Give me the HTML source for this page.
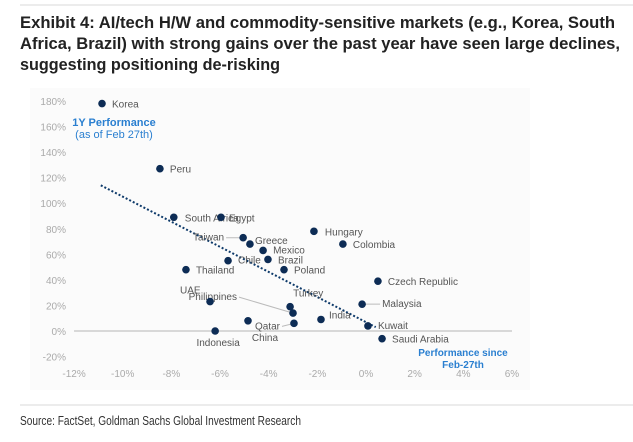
<!DOCTYPE html>
<html><head><meta charset="utf-8"><style>
body{margin:0;background:#fff;}
svg{display:block;font-family:"Liberation Sans",Arial,sans-serif;}
</style></head><body>
<svg width="633" height="442" viewBox="0 0 633 442">
<line x1="20" y1="5" x2="633" y2="5" stroke="#d8d8d8" stroke-width="1"/>
<g font-family="'Liberation Sans Narrow','Liberation Sans',sans-serif" font-weight="bold" font-size="17" fill="#222">
<text x="20" y="28" textLength="595" lengthAdjust="spacingAndGlyphs">Exhibit 4: AI/tech H/W and commodity-sensitive markets (e.g., Korea, South</text>
<text x="20" y="49" textLength="600" lengthAdjust="spacingAndGlyphs">Africa, Brazil) with strong gains over the past year have seen large declines,</text>
<text x="20" y="70" textLength="260" lengthAdjust="spacingAndGlyphs">suggesting positioning de-risking</text>
</g>
<rect x="30" y="88" width="500" height="302" fill="#fbfbfb"/>
<g id="axes" font-size="10" fill="#aaa"></g>
<g id="marks"></g>
<text x="114" y="126" font-size="11" font-weight="bold" fill="#2a7fd0" text-anchor="middle">1Y Performance</text>
<text x="114" y="138" font-size="11" fill="#2a7fd0" text-anchor="middle">(as of Feb 27th)</text>
<text x="463" y="356" font-size="10" font-weight="bold" fill="#2a7fd0" text-anchor="middle">Performance since</text>
<text x="463" y="368" font-size="10" font-weight="bold" fill="#2a7fd0" text-anchor="middle">Feb-27th</text>
<line x1="20" y1="405" x2="633" y2="405" stroke="#d8d8d8" stroke-width="1"/>
<text x="20" y="425" font-family="'Liberation Sans Narrow','Liberation Sans',sans-serif" font-size="13" fill="#333" textLength="281" lengthAdjust="spacingAndGlyphs">Source: FactSet, Goldman Sachs Global Investment Research</text>
</svg>
<script>
const countries=["Korea","Peru","South Africa","Egypt","Taiwan","Greece","Mexico","Brazil","Chile","Thailand","Poland","Hungary","Colombia","Czech Republic","Malaysia","Kuwait","Saudi Arabia","India","Turkey","Philippines","Qatar","China","UAE","Indonesia"];
const xVals=[-10.85,-8.47,-7.9,-5.96,-5.05,-4.77,-4.23,-4.03,-5.67,-7.4,-3.37,-2.14,-0.95,0.49,-0.16,0.08,0.66,-1.85,-3.12,-3.0,-2.96,-4.85,-6.41,-6.2];
const yVals=[178,127,89,89,73,68,63,56,55,48,48,78,68,39,21,4,-6,9,19,14,6,8,23,0];
const xTicks=[-12,-10,-8,-6,-4,-2,0,2,4,6];
const yTicks=[180,160,140,120,100,80,60,40,20,0,-20];
const trendX=[-10.9,0.4];
const trendY=[114,3];
// label offsets [dx,dy,anchor,leader]
const lab={"Korea":[10,4,"start"],"Peru":[10,4,"start"],"South Africa":[11,4,"start"],"Egypt":[8,4,"start"],"Taiwan":[-19,3,"end",1],"Greece":[5,0,"start"],"Mexico":[10,3,"start"],"Brazil":[10,4,"start"],"Chile":[10,3,"start"],"Thailand":[10,4,"start"],"Poland":[10,4,"start"],"Hungary":[11,4,"start"],"Colombia":[10,4,"start"],"Czech Republic":[10,4,"start"],"Malaysia":[20,3,"start",1],"Kuwait":[10,3,"start"],"Saudi Arabia":[10,4,"start"],"India":[8,-1,"start"],"Turkey":[3,-10,"start"],"Philippines":[-56,-13,"end",1],"Qatar":[-14,6,"end",1],"China":[17,20,"middle"],"UAE":[-30,-8,"start"],"Indonesia":[3,15,"middle"]};
const X=v=>366+v*24.33, Y=v=>331-v*1.278;
const NS="http://www.w3.org/2000/svg";
const ax=document.getElementById('axes'), mk=document.getElementById('marks');
function mkEl(t,a,p){const e=document.createElementNS(NS,t);for(const k in a)e.setAttribute(k,a[k]);p.appendChild(e);return e;}
const zl=mkEl('line',{x1:X(-12),x2:X(6),y1:Y(0),y2:Y(0),stroke:'#ccc','stroke-width':1.5},ax);


xTicks.forEach(t=>{const e=mkEl('text',{x:X(t),y:377,'text-anchor':'middle'},ax);e.textContent=t+'%';

});
yTicks.forEach(t=>{const e=mkEl('text',{x:66,y:Y(t)+4,'text-anchor':'end'},ax);e.textContent=t+'%';

});
const tl=mkEl('line',{x1:X(trendX[0]),y1:Y(trendY[0]),x2:X(trendX[1]),y2:Y(trendY[1]),stroke:'#0e3a6a','stroke-width':2,'stroke-dasharray':'2,2'},mk);


countries.forEach((c,i)=>{const cx=X(xVals[i]),cy=Y(yVals[i]);const o=lab[c];
if(o[3]){const ll=mkEl('line',{x1:cx+o[0]+(o[0]<0?2:-2),y1:cy+o[1]-3,x2:cx,y2:cy,stroke:'#bbb','stroke-width':1},mk);

}
const d=mkEl('circle',{cx:cx,cy:cy,r:3.8,fill:'#0d2c55'},mk);


const t=mkEl('text',{x:cx+o[0],y:cy+o[1],'text-anchor':o[2],'font-size':10,fill:'#555'},mk);t.textContent=c;

});
</script>
</body></html>
